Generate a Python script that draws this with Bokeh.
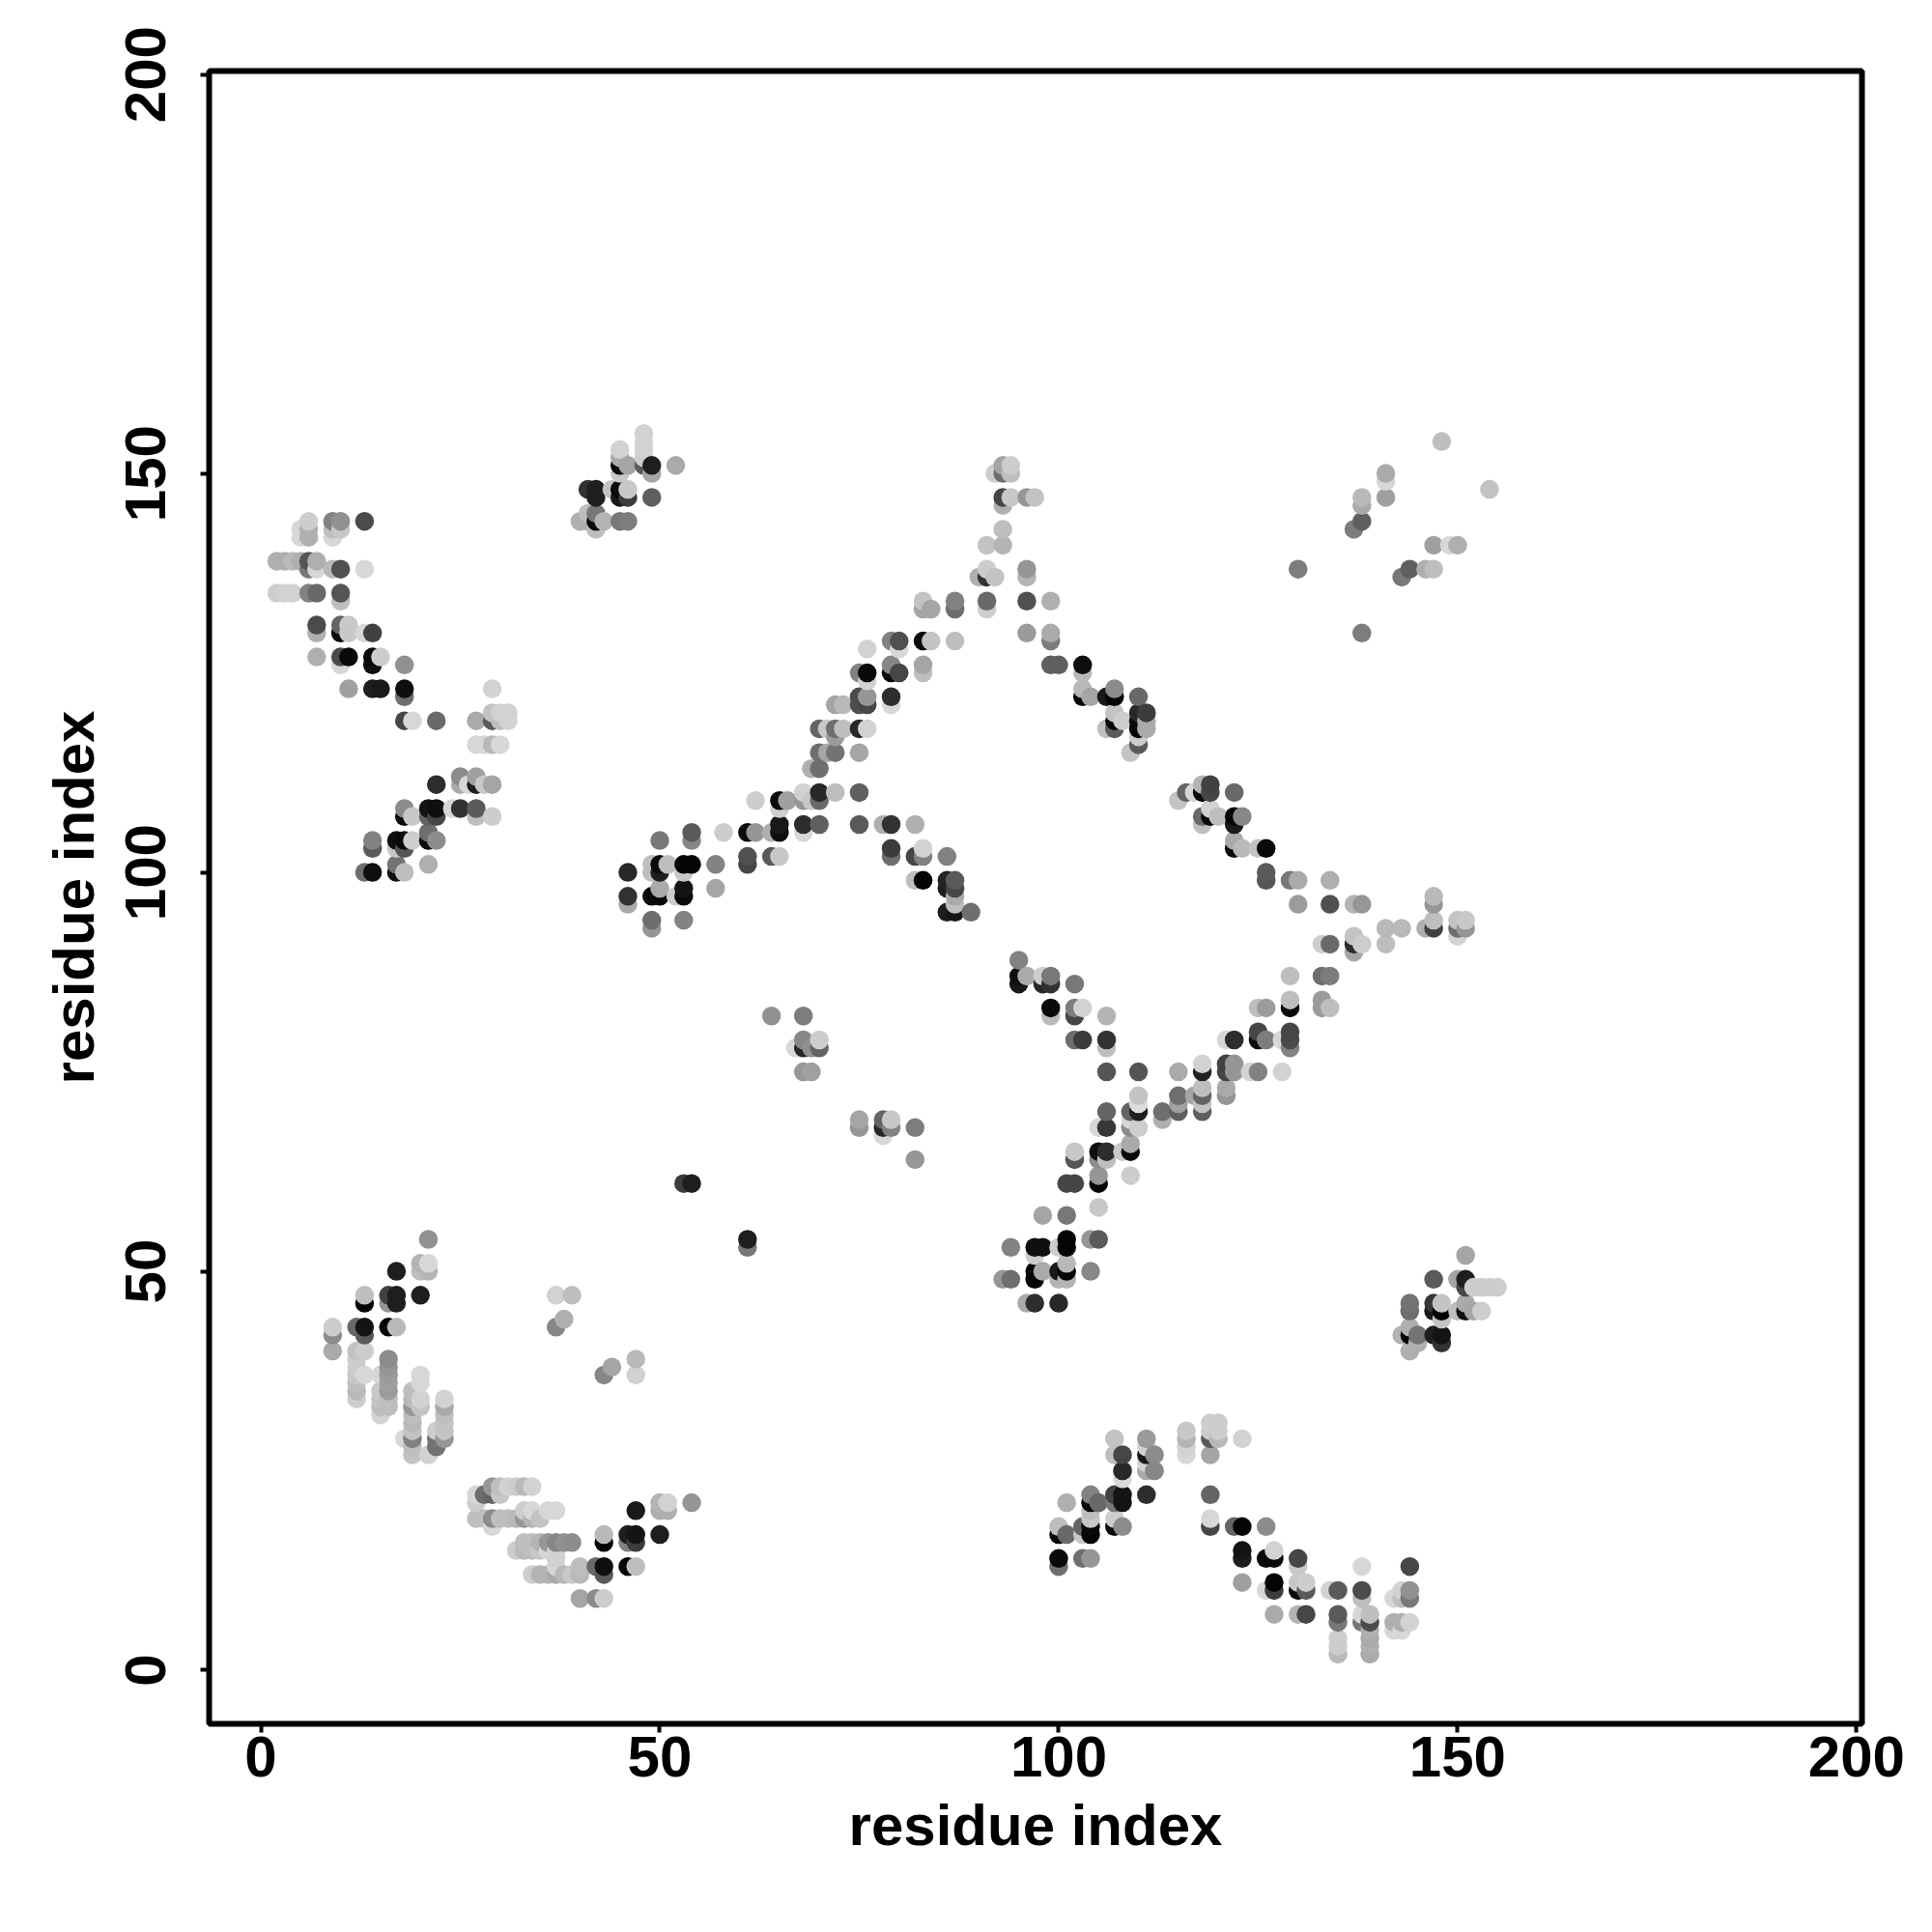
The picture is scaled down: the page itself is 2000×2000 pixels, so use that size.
from bokeh.plotting import figure
from bokeh.models import ColumnDataSource, Range1d, FixedTicker
from bokeh.embed import file_html
from bokeh.resources import INLINE
import numpy as np

tick_values = [0, 50, 100, 150, 200]
axis_title = "residue index"

# each block: residue j per row, residue i lists per row, grey level lists per row
a_y = [144,143,142,139,138,135,134,131,130,127,126,123,122,120,119,116,112,111,108,107,105,104,103,101,100]
a_x = [[6,9,10,13],[5,6,9,10],[5,6,9],[2,3,4,5,6,7],[6,7,9,10,13],[2,3,4,6,7,10],[10],[7,10,11],[7,10,11,13,14],
       [7,10,11,14,15],[10,14,18],[11,14,15,18,29],[18],[29,30,31],[18,19,22,27,29,30,31],[27,28,29,30],[25,27],
       [22,25,26,27,28,29],[18,21,22,24,25,27],[18,19,21,22,27,29],[21],[14,17,18,19,21,22],[14,17,18],[17,21],[13,14,17,18]]
a_g = [[205,130,145,75],[215,175,190,200],[215,175,215],[175,175,185,175,85,175],[120,215,185,80,215],[205,210,210,130,105,85],[190],[75,100,200],[175,10,200,215,65],
       [175,75,10,10,205],[215,15,145],[160,30,25,15,210],[110],[195,210,210],[70,215,105,170,90,190,210],[215,215,185,215],[140,160],
       [45,170,215,30,200,165],[140,20,15,215,50,90],[10,200,100,70,190,205],[110],[130,15,10,205,10,140],[90,200,85],[115,175],[110,15,15,190]]

b_y = [155,154,153,152,151,150,148,147,145,144,143]
b_x = [[48],[48],[45,48],[45,48],[45,46,48,49,52],[45,49],[41,42,44,45,46],[42,45,46,49],[41,42],[40,41,42,43,45,46],[42]]
b_g = [[210],[210],[210,210],[170,205],[10,165,90,30,170],[200,165],[50,30,195,10,200],[30,25,60,95],[190,120],[175,175,10,180,120,125],[190]]

c_y = [134,133,129,128,126,125,124,122,121,118,117,115,113,110,109,108,106,105,104,103,102,101,100,99,98,97,96,95,94,93]
c_x = [[83],[83,84],[79,80,83,84],[76,80],[79,83],[75,76,79,80,83],[76],[75,76,79],[72,73,75,76,79],[70,71,72,73,75,76],[72],[70,71,72,75],[69,70],
       [68,70,72,75],[62,65,66,68,69,70],[65],[65,68,70,75,78,79,82],[54,58,61,62,64,65,68],[50,54],[79,83],[61,64,65,79,82,83,86],
       [49,50,51,53,54,57,61],[46,49,50,53],[82,83,86,87],[50,53,57,86,87],[46,49,50,52,53,87],[46,87],[86,87,89],[49,53],[49]]
c_g = [[195],[165,165],[130,80,10,195],[210,215],[135,165],[130,10,10,70,190],[210],[75,150,45],[165,185,80,70,215],[100,200,110,190,40,210],[155],[110,165,115,165],[175,110],
       [210,40,190,95],[205,10,160,150,200,105],[205],[25,45,95,90,175,50,175],[90,205,10,150,175,15,215],[120,135],[60,210],[80,90,200,110,70,130,130],
       [190,10,190,5,5,130,70],[40,190,30,200],[190,5,35,90],[170,20,165,30,70],[50,10,10,205,10,170],[170,190],[30,20,110],[110,130],[150]]

d_y = [151,150,147,146,143,141,138,137,134,133,130,129,126,125,123,122,120,119,118,117,116,115]
d_x = [[93,94],[92,93,94],[93,94,96,97],[93],[93],[91,93],[91,96],[90,91,92,96],[87,91,96,99],[87,91],[96,99],[87,99],[99,100,103],[103],[103,107],
       [103,104,106,107,110],[107,110,111],[107,108,110,111],[106,107,110,111],[110],[110],[109]]
d_g = [[165,205],[205,110,190],[70,200,150,195],[175],[190],[195,180],[205,150],[175,50,195,180],[130,105,80,175],[110,205],[155,170],[190,125],[95,95,15],[185],[185,140],
       [5,165,25,5,105],[195,40,60],[10,205,10,170],[190,90,5,170],[205],[90],[195]]

e_y = [111,110,109,108,107,106,104,103,100,99,97,96,94,93,92,91,90,87,84]
e_x = [[118,119],[116,117,118,119,122],[115],[119],[118,119,120,122,123],[118,122],[122],[122,123,125,126],[126],[126,129,130,134],[147],[130,134,137,138,147],[147,150,151],
       [141,143,146,147,150,151],[137,150],[133,134,137,138,141],[137],[129,133,134],[129,133]]
e_g = [[180,65],[100,215,10,70,105],[195],[210],[105,10,190,5,135],[190,25],[170],[10,185,195,10],[90],[85,120,170,175],[185],[155,80,180,150,150],[190,195,200],
       [185,185,175,65,110,150],[195,210],[205,105,45,205,190],[165],[190,110,125],[190,155]]

f_y = [89,87,86,83,82,79,80,78,76,75,73,72,71,70,69,68,66,65,64,62,61,58,57,54,53,52,51,50,49,46]
f_x = [[95],[95,96,98,99],[95,98,99,102],[99,102,103,125,126,129,133,134],[99,102,106],[102,103,106,121,122,125,126,128,129],[125,129],[106,129],[118,121,122],[106,110,115,118,121,122,124,125,128],
       [118,121],[110,115,117,118,121],[110,115,118],[106,109,110,113,115,118],[109,113],[105,106,109,110],[109],[102,105,106,108,109],[102,105,106],[105,109],[101,102,105],[105],[98,101],[101,104,105],
       [94,97,98,100,101],[97],[101],[97,98,100,101,104],[93,94,97,100,101],[96,97,100]]
f_g = [[130],[15,170,205,120],[25,40,50,120],[10,125,210,190,155,10,155,190],[185,70,180],[110,60,50,215,45,10,125,215,75],[70,70],[190,130],[210,65,150],[85,85,170,35,70,150,210,130,210],
       [190,170],[195,110,165,100,150],[220,160,195],[100,100,30,110,95,95],[215,175],[215,55,140,205],[170],[200,15,45,200,10],[85,140,190],[150,205],[70,70,5],[200],[165,120],[5,150,90],
       [130,15,15,205,5],[205],[185],[5,170,25,5,135],[150,110,5,180,180],[170,45,40]]

g_y = [54,51,50,47,46,44,43,42,40,39,38,37,36,35,34,33,32,31,30,29,28,27]
g_x = [[21],[20,21],[17,20,21],[13,16,17,20,37,39],[13,16,17],[38],[9,12,13,16,17,37],[9,13],[9,12,13],[12,16,47],[12,16,44],[12,13,15,16,20,43,47],[12,16,20],[12,15,16,19],
       [12,15,16,19,20,23],[15,16,19,20,23],[15,19,23],[19,23],[19,22,23],[18,19,22,23],[19,22],[19,21]]
g_g = [[145],[180,215],[30,190,180],[190,65,30,30,210,190],[5,150,30],[175],[205,105,20,5,185,135],[140,90],[170,195,205],[205,140,185],[205,150,165],[200,215,215,155,215,135,210],[190,160,215],[185,200,155,190],
       [205,195,190,185,210,210],[190,190,150,195,170],[210,190,190],[185,195],[195,205,195],[215,130,115,150],[190,115],[195,210]]

h_y = [23,22,21,20,19,18,17,16,15,14,13,12,9]
h_x = [[29,30,31,32,33,34],[27,28,29,30],[27,50,51,54],[33,34,36,37,47,50,51],[27,28,29,30,31,32,33,34,35],[29],[43,46,47,50],[33,34,35,36,37,38,39,43,46,47],[32,33,34,35,36,37],[37],
       [37,40,42,43,46,47],[34,35,36,37,38,39,40,43],[40,42,43]]
h_g = [[150,190,210,205,185,210],[215,110,100,200],[205,180,210,150],[205,215,215,215,25,175,175],[190,190,140,190,190,185,150,180,195],[215],[185,30,20,30],[190,190,180,150,135,145,140,5,130,60],[205,185,190,200,215,210],[210],
       [215,190,105,15,5,190],[205,180,180,170,185,200,185,90],[165,140,205]]

i_y = [31,30,29,28,27,26,25,24,22,21,20,19,18,17,15,14,13,11,10,9,7,6,5,4,3,2]
i_x = [[119,120],[116,119,120],[107,111,116,119,120,123],[111,116],[107,108,111,112,116,119],[111],[108,111,112],[108],[104,107,108,111,119],[101,104,105,107,108],[104],[104,107,119],
       [100,103,104,107,108,119,122,123,126],[100,101,103,104],[123,127],[100,103,104,123,126,127,130],[100,130,138,144],[123,127,130,131],[126,127,130,131,134,135,138,143,144],[138,142,143,144],
       [127,130,131,135,138,139],[135,138,139,142,143,144],[139,142,143],[135,139],[135,139],[135,139]]
i_g = [[205,205],[200,205,205],[195,155,180,90,185,210],[210,210],[190,70,25,140,215,165],[210],[40,170,135],[215],[130,65,20,45,100],[175,10,105,120,20],[190],[200,205,215],
       [190,100,10,10,140,70,100,5,140],[10,105,200,5],[20,210],[10,110,150,30,10,10,70],[110,200,215,70],[160,5,200,205],[215,60,10,90,210,90,75,210,145],[190,215,190,120],
       [170,180,70,90,215,190],[120,120,75,175,175,210],[175,215,215],[205,170],[205,175],[185,170]]

j_y = [154,150,149,148,147,146,144,143,141,138,137,130]
j_x = [[148],[141],[141],[154],[138,141],[138],[138],[137],[147,149,150],[130,144,146,147],[143],[138]]
j_g = [[190],[170],[215],[195],[185,160],[170],[95],[125],[160,215,175],[125,95,175,190],[120],[125]]

k_y = [52,49,48,46,45,44,43,42,41,40]
k_x = [[151],[147,150,151],[151,152,153,154,155],[144,147,148,151],[144,147,148,150,151,152,153],[148],[144],[143,144,145,147,148],[145,148],[144]]
k_g = [[165],[90,165,30],[70,205,205,205,205],[115,55,195,170],[110,25,5,190,15,165,205],[195],[175],[180,5,115,30,20],[175,50],[175]]

l_y = [82,79,78,75,69,68,67,64,61,54,53]
l_x = [[64,68],[68,70],[67,68,69,70],[68,69],[75,78,79],[75,78,79,82],[78],[82],[53,54],[61],[61]]
l_g = [[145,125],[135,205],[215,40,145,100],[150,160],[165,100,200],[150,40,130,125],[215],[150],[60,30],[30],[120]]

blocks = [(a_y,a_x,a_g),(b_y,b_x,b_g),(c_y,c_x,c_g),(d_y,d_x,d_g),(e_y,e_x,e_g),(f_y,f_x,f_g),
          (g_y,g_x,g_g),(h_y,h_x,h_g),(i_y,i_x,i_g),(j_y,j_x,j_g),(k_y,k_x,k_g),(l_y,l_x,l_g)]

xs, ys, gs = [], [], []
for by, bx, bg in blocks:
    for row, rx, rg in zip(by, bx, bg, strict=True):
        for x, g in zip(rx, rg, strict=True):
            xs.append(x); ys.append(row); gs.append(g)
order = np.lexsort((ys, xs))
xs = np.array(xs)[order]; ys = np.array(ys)[order]; gs = np.array(gs)[order]
colors = ["#%02x%02x%02x" % (g, g, g) for g in gs]
source = ColumnDataSource(dict(x=xs.tolist(), y=ys.tolist(), c=colors))

p = figure(frame_width=1711, frame_height=1711, output_backend="svg", toolbar_location=None,
           x_range=Range1d(-6.48, 200.68), y_range=Range1d(-6.72, 200.44),
           min_border_left=216, min_border_top=73, min_border_right=60, min_border_bottom=150)
p.background_fill_color = "white"
p.grid.visible = False
p.outline_line_color = "black"
p.outline_line_width = 6
p.scatter("x", "y", source=source, size=19.5, color="c", line_color=None, marker="circle")

for ax in (p.xaxis[0], p.yaxis[0]):
    ax.ticker = FixedTicker(ticks=tick_values)
    ax.axis_line_color = None
    ax.major_tick_out = 9
    ax.major_tick_in = 0
    ax.major_tick_line_width = 4
    ax.major_tick_line_color = "black"
    ax.minor_tick_line_color = None
    ax.major_label_text_font = "Liberation Sans"
    ax.major_label_text_font_style = "bold"
    ax.major_label_text_font_size = "60px"
    ax.major_label_text_color = "black"
    ax.axis_label = axis_title
    ax.axis_label_text_font = "Liberation Sans"
    ax.axis_label_text_font_style = "bold"
    ax.axis_label_text_font_size = "60px"
    ax.axis_label_text_color = "black"
p.xaxis[0].major_label_standoff = 4
p.xaxis[0].axis_label_standoff = 14
p.yaxis[0].major_label_orientation = "vertical"
p.yaxis[0].major_label_standoff = 36
p.yaxis[0].axis_label_standoff = 18

open("out.html", "w").write(file_html(p, INLINE))
